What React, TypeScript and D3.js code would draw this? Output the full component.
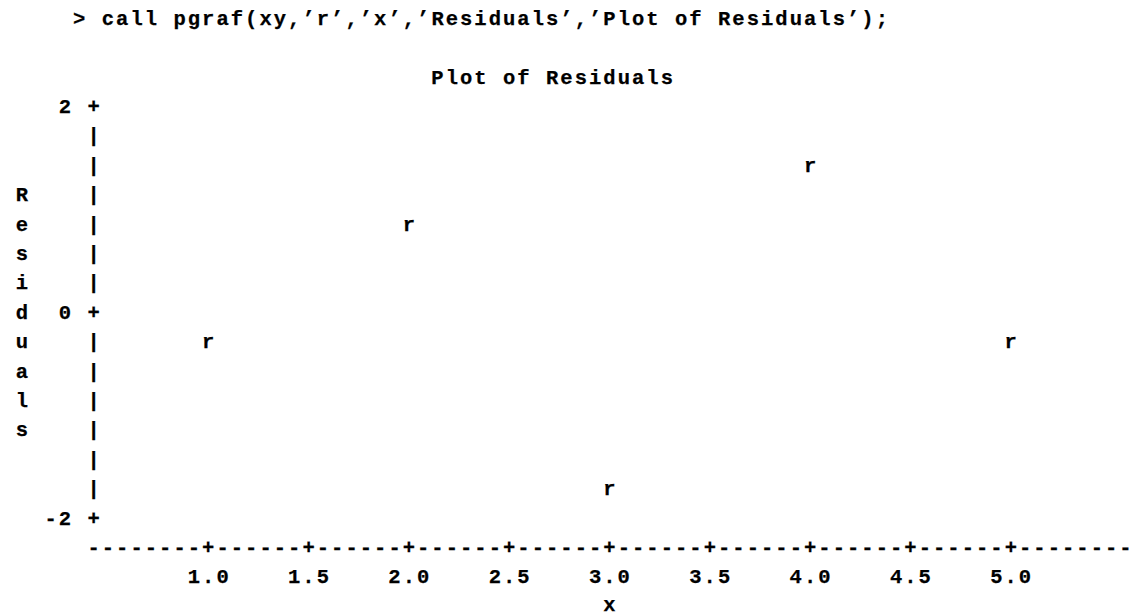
import React from "react";
import * as d3 from "d3";

// ---- data ----
const xValues = [1, 2, 3, 4, 5];
const residuals = [-0.2, 1.0, -1.8, 1.4, -0.4];
const xTicks = [1.0, 1.5, 2.0, 2.5, 3.0, 3.5, 4.0, 4.5, 5.0];
const yTicks = [2, 0, -2];
const pointSymbol = "r";
const headerText = "> call pgraf(xy,\u2019r\u2019,\u2019x\u2019,\u2019Residuals\u2019,\u2019Plot of Residuals\u2019);";
const titleText = "Plot of Residuals";
const xLabel = "x";
const yLabel = "Residuals";

// ---- layout (character grid) ----
const W = 1130;
const H = 613;
const CW = 14.33; // column pitch
const ROW = 29.4; // row pitch
const COL0 = 14.75; // left edge of column 0
const BASE0 = 113; // baseline of row 0
const FS = 20.5;
const LS = CW - FS * 0.6;
const AXIS_COL = 5;
const FIRST_TICK_COL = 13;
const Y_ROWS = 14; // rows from top tick to bottom tick
const NCOLS = Math.floor((W - COL0) / CW) + 1;

const colX = (c: number) => COL0 + c * CW;
const colCenter = (c: number) => colX(c) + CW / 2;
const rowY = (r: number) => BASE0 + r * ROW;

const xScale = d3
  .scaleLinear()
  .domain([1, 5])
  .range([colCenter(FIRST_TICK_COL), colCenter(FIRST_TICK_COL + 56)]);
const yRowScale = d3.scaleLinear().domain([2, -2]).range([0, Y_ROWS]);
const fmt = d3.format(".1f");

const font = {
  fontFamily: "'Liberation Mono', 'Courier New', monospace",
  fontWeight: 700 as const,
  fontSize: FS,
  fill: "#000",
  stroke: "#000",
  strokeWidth: 0.25,
};

function Txt({ col, row, text, dy = 0 }: { col: number; row: number; text: string; dy?: number }) {
  return (
    <text x={colX(col) + LS / 2} y={rowY(row) + dy} letterSpacing={LS} style={{ whiteSpace: "pre" }} {...font}>
      {text}
    </text>
  );
}

export default function App() {
  const colOf = (px: number) => Math.round((px - colCenter(0)) / CW);
  const tickCols = xTicks.map((t) => colOf(xScale(t)));
  const axisChars: string[] = [];
  for (let c = AXIS_COL; c < NCOLS; c++) axisChars.push(tickCols.includes(c) ? "+" : "-");
  const axisLine = axisChars.join("");

  const yTickRows = yTicks.map((t) => Math.round(yRowScale(t)));
  const yAxisRows = d3.range(0, Y_ROWS + 1);

  return (
    <svg
      width={W}
      height={H}
      viewBox={`0 0 ${W} ${H}`}
      style={{ position: "absolute", left: 0, top: 0, background: "#fff" }}
    >
      <rect x={0} y={0} width={W} height={H} fill="#fff" />
      <Txt col={4} row={-3} text={headerText} />
      <Txt col={29} row={-1} text={titleText} />

      {/* y axis */}
      {yAxisRows.map((r) => (
        <text key={"ya" + r} x={colCenter(AXIS_COL)} y={rowY(r)} textAnchor="middle" {...font}>
          {yTickRows.includes(r) ? "+" : "|"}
        </text>
      ))}
      {yTicks.map((t, i) => {
        const s = String(t);
        return <Txt key={"yt" + i} col={AXIS_COL - 1 - s.length} row={yTickRows[i]} text={s} />;
      })}
      {yLabel.split("").map((ch, i) => (
        <text key={"yl" + i} x={colCenter(0)} y={rowY(3 + i)} textAnchor="middle" {...font}>
          {ch}
        </text>
      ))}

      {/* x axis */}
      <Txt col={AXIS_COL} row={Y_ROWS + 1} text={axisLine} />
      {xTicks.map((t, i) => {
        const s = fmt(t);
        return <Txt key={"xt" + i} col={tickCols[i] - Math.floor(s.length / 2)} row={Y_ROWS + 2} text={s} />;
      })}
      <text x={xScale(3)} y={rowY(Y_ROWS + 3) - 2} textAnchor="middle" {...font}>
        {xLabel}
      </text>

      {/* points */}
      {xValues.map((x, i) => (
        <text
          key={"p" + i}
          x={colCenter(colOf(xScale(x)))}
          y={rowY(Math.round(yRowScale(residuals[i])))}
          textAnchor="middle"
          {...font}
        >
          {pointSymbol}
        </text>
      ))}
    </svg>
  );
}
